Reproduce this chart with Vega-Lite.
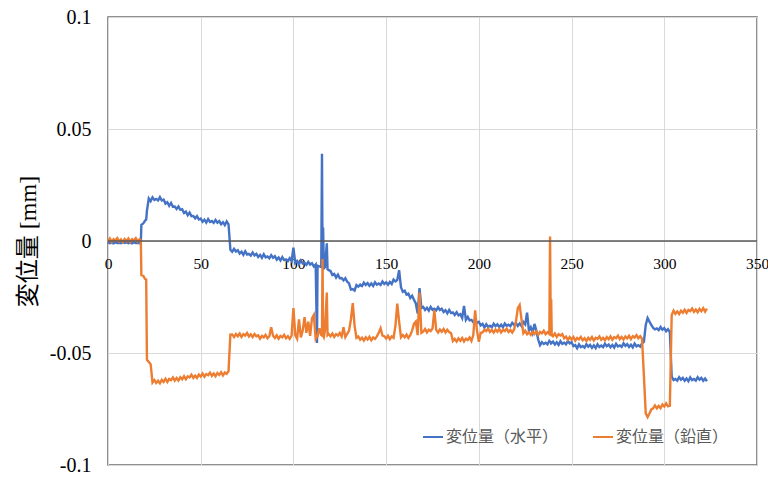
{
"$schema": "https://vega.github.io/schema/vega-lite/v6.json",
"width": 649, "height": 448,
"autosize": {"type": "none"},
"padding": {"left": 108, "top": 17, "right": 11, "bottom": 17},
"background": "white",
"config": {"view": {"stroke": "#6b6b6b", "strokeWidth": 1.5}},
"data": {"values": [
{"t":0,"h":-0.0006,"v":-0.0001},{"t":1,"h":-0.0010,"v":0.0011},{"t":2,"h":-0.0007,"v":-0.0004},{"t":3,"h":-0.0011,"v":0.0008},{"t":4,"h":-0.0006,"v":0.0002},
{"t":5,"h":-0.0009,"v":0.0013},{"t":6,"h":-0.0008,"v":-0.0002},{"t":7,"h":-0.0010,"v":0.0007},{"t":8,"h":-0.0005,"v":-0.0005},{"t":9,"h":-0.0009,"v":0.0009},
{"t":10,"h":-0.0006,"v":-0.0001},{"t":11,"h":-0.0010,"v":0.0011},{"t":12,"h":-0.0007,"v":-0.0004},{"t":13,"h":-0.0011,"v":0.0008},{"t":14,"h":-0.0006,"v":0.0002},
{"t":15,"h":-0.0009,"v":0.0013},{"t":16,"h":-0.0008,"v":-0.0002},{"t":17,"h":-0.0010,"v":0.0007},{"t":17.7,"h":-0.0008,"v":0.0003},
{"t":18,"h":0.0072,"v":-0.0152},{"t":19,"h":0.0078,"v":-0.0155},{"t":20,"h":0.0091,"v":-0.0170},{"t":20.6,"h":0.0095,"v":-0.0172},
{"t":21,"h":0.0135,"v":-0.0530},{"t":22,"h":0.0190,"v":-0.0540},{"t":23,"h":0.0178,"v":-0.0550},{"t":24,"h":0.0195,"v":-0.0632},
{"t":25,"h":0.0183,"v":-0.0621},{"t":26,"h":0.0188,"v":-0.0634},{"t":27,"h":0.0181,"v":-0.0624},{"t":28,"h":0.0196,"v":-0.0635},
{"t":29,"h":0.0181,"v":-0.0620},{"t":30,"h":0.0185,"v":-0.0629},{"t":31,"h":0.0167,"v":-0.0615},{"t":32,"h":0.0173,"v":-0.0629},
{"t":33,"h":0.0157,"v":-0.0616},{"t":34,"h":0.0170,"v":-0.0621},{"t":35,"h":0.0153,"v":-0.0609},{"t":36,"h":0.0154,"v":-0.0623},
{"t":37,"h":0.0143,"v":-0.0612},{"t":38,"h":0.0154,"v":-0.0623},{"t":39,"h":0.0139,"v":-0.0608},{"t":40,"h":0.0142,"v":-0.0617},
{"t":41,"h":0.0125,"v":-0.0604},{"t":42,"h":0.0131,"v":-0.0617},{"t":43,"h":0.0115,"v":-0.0604},{"t":44,"h":0.0127,"v":-0.0609},
{"t":45,"h":0.0111,"v":-0.0597},{"t":46,"h":0.0112,"v":-0.0611},{"t":47,"h":0.0101,"v":-0.0601},{"t":48,"h":0.0111,"v":-0.0611},
{"t":49,"h":0.0096,"v":-0.0596},{"t":50,"h":0.0100,"v":-0.0605},{"t":51,"h":0.0086,"v":-0.0592},{"t":52,"h":0.0095,"v":-0.0606},
{"t":53,"h":0.0082,"v":-0.0594},{"t":54,"h":0.0098,"v":-0.0599},{"t":55,"h":0.0085,"v":-0.0588},{"t":56,"h":0.0089,"v":-0.0602},
{"t":57,"h":0.0081,"v":-0.0592},{"t":58,"h":0.0094,"v":-0.0604},{"t":59,"h":0.0082,"v":-0.0589},{"t":60,"h":0.0089,"v":-0.0598},
{"t":61,"h":0.0075,"v":-0.0586},{"t":62,"h":0.0084,"v":-0.0600},{"t":63,"h":0.0071,"v":-0.0587},{"t":64,"h":0.0087,"v":-0.0593},
{"t":65,"h":0.0074,"v":-0.0581},
{"t":66,"h":-0.0039,"v":-0.0418},{"t":67,"h":-0.0048,"v":-0.0417},{"t":68,"h":-0.0035,"v":-0.0429},{"t":69,"h":-0.0047,"v":-0.0415},
{"t":70,"h":-0.0041,"v":-0.0425},{"t":71,"h":-0.0056,"v":-0.0413},{"t":72,"h":-0.0048,"v":-0.0428},{"t":73,"h":-0.0062,"v":-0.0416},
{"t":74,"h":-0.0046,"v":-0.0422},{"t":75,"h":-0.0060,"v":-0.0411},{"t":76,"h":-0.0057,"v":-0.0426},{"t":77,"h":-0.0065,"v":-0.0417},
{"t":78,"h":-0.0051,"v":-0.0429},{"t":79,"h":-0.0064,"v":-0.0415},{"t":80,"h":-0.0057,"v":-0.0425},{"t":81,"h":-0.0071,"v":-0.0421},
{"t":82,"h":-0.0062,"v":-0.0436},{"t":83,"h":-0.0075,"v":-0.0424},{"t":84,"h":-0.0059,"v":-0.0430},{"t":85,"h":-0.0073,"v":-0.0419},
{"t":86,"h":-0.0069,"v":-0.0434},{"t":87,"h":-0.0077,"v":-0.0425},{"t":88,"h":-0.0063,"v":-0.0385},{"t":89,"h":-0.0075,"v":-0.0423},
{"t":90,"h":-0.0068,"v":-0.0433},{"t":91,"h":-0.0083,"v":-0.0421},{"t":92,"h":-0.0074,"v":-0.0436},{"t":93,"h":-0.0087,"v":-0.0424},
{"t":94,"h":-0.0072,"v":-0.0430},{"t":95,"h":-0.0085,"v":-0.0419},{"t":96,"h":-0.0082,"v":-0.0434},{"t":97,"h":-0.0090,"v":-0.0425},
{"t":98,"h":-0.0077,"v":-0.0437},{"t":99,"h":-0.0089,"v":-0.0423},{"t":100,"h":-0.0030,"v":-0.0300},{"t":101,"h":-0.0098,"v":-0.0421},
{"t":102,"h":-0.0089,"v":-0.0436},{"t":103,"h":-0.0103,"v":-0.0350},{"t":104,"h":-0.0087,"v":-0.0430},{"t":105,"h":-0.0101,"v":-0.0400},
{"t":106,"h":-0.0098,"v":-0.0340},{"t":107,"h":-0.0106,"v":-0.0410},{"t":108,"h":-0.0093,"v":-0.0360},{"t":109,"h":-0.0105,"v":-0.0423},
{"t":110,"h":-0.0099,"v":-0.0345},{"t":111,"h":-0.0114,"v":-0.0330},{"t":112,"h":-0.0105,"v":-0.0436},
{"t":112.7,"h":-0.0455,"v":-0.0425},{"t":113,"h":-0.0110,"v":-0.0425},{"t":114,"h":-0.0113,"v":-0.0390},{"t":115,"h":-0.0116,"v":-0.0420},
{"t":115.4,"h":0.0390,"v":-0.0422},{"t":115.7,"h":-0.0112,"v":-0.0080},{"t":116,"h":0.0060,"v":-0.0420},{"t":116.4,"h":-0.0122,"v":-0.0428},
{"t":117,"h":-0.0117,"v":-0.0400},{"t":118,"h":-0.0010,"v":-0.0230},{"t":118.4,"h":-0.0126,"v":-0.0420},
{"t":119,"h":-0.0130,"v":-0.0415},{"t":120,"h":-0.0134,"v":-0.0425},{"t":121,"h":-0.0152,"v":-0.0413},{"t":122,"h":-0.0147,"v":-0.0428},
{"t":123,"h":-0.0163,"v":-0.0416},{"t":124,"h":-0.0150,"v":-0.0422},{"t":125,"h":-0.0166,"v":-0.0411},{"t":126,"h":-0.0165,"v":-0.0426},
{"t":127,"h":-0.0176,"v":-0.0385},{"t":128,"h":-0.0166,"v":-0.0429},{"t":129,"h":-0.0182,"v":-0.0415},{"t":130,"h":-0.0189,"v":-0.0400},
{"t":131,"h":-0.0217,"v":-0.0350},{"t":132,"h":-0.0215,"v":-0.0277},{"t":133,"h":-0.0221,"v":-0.0380},{"t":134,"h":-0.0197,"v":-0.0432},
{"t":135,"h":-0.0204,"v":-0.0426},{"t":136,"h":-0.0195,"v":-0.0441},{"t":137,"h":-0.0201,"v":-0.0432},{"t":138,"h":-0.0186,"v":-0.0444},
{"t":139,"h":-0.0196,"v":-0.0430},{"t":140,"h":-0.0188,"v":-0.0440},{"t":141,"h":-0.0200,"v":-0.0428},{"t":142,"h":-0.0190,"v":-0.0443},
{"t":143,"h":-0.0201,"v":-0.0431},{"t":144,"h":-0.0184,"v":-0.0437},{"t":145,"h":-0.0195,"v":-0.0426},{"t":146,"h":-0.0190,"v":-0.0410},
{"t":147,"h":-0.0196,"v":-0.0390},{"t":148,"h":-0.0181,"v":-0.0422},{"t":149,"h":-0.0192,"v":-0.0425},{"t":150,"h":-0.0184,"v":-0.0435},
{"t":151,"h":-0.0195,"v":-0.0423},{"t":152,"h":-0.0183,"v":-0.0438},{"t":153,"h":-0.0192,"v":-0.0426},{"t":154,"h":-0.0172,"v":-0.0432},
{"t":155,"h":-0.0180,"v":-0.0380},{"t":156,"h":-0.0174,"v":-0.0280},{"t":157,"h":-0.0130,"v":-0.0360},{"t":158,"h":-0.0206,"v":-0.0430},
{"t":159,"h":-0.0227,"v":-0.0420},{"t":160,"h":-0.0222,"v":-0.0430},{"t":161,"h":-0.0239,"v":-0.0418},{"t":162,"h":-0.0235,"v":-0.0433},
{"t":163,"h":-0.0254,"v":-0.0421},{"t":164,"h":-0.0244,"v":-0.0400},{"t":165,"h":-0.0262,"v":-0.0370},{"t":166,"h":-0.0279,"v":-0.0360},
{"t":167,"h":-0.0324,"v":-0.0420},{"t":168,"h":-0.0210,"v":-0.0230},{"t":169,"h":-0.0299,"v":-0.0410},{"t":170,"h":-0.0294,"v":-0.0405},
{"t":171,"h":-0.0308,"v":-0.0393},{"t":172,"h":-0.0298,"v":-0.0408},{"t":173,"h":-0.0311,"v":-0.0396},{"t":174,"h":-0.0294,"v":-0.0402},
{"t":175,"h":-0.0307,"v":-0.0391},{"t":176,"h":-0.0302,"v":-0.0310},{"t":177,"h":-0.0310,"v":-0.0397},{"t":178,"h":-0.0296,"v":-0.0409},
{"t":179,"h":-0.0308,"v":-0.0395},{"t":180,"h":-0.0302,"v":-0.0405},{"t":181,"h":-0.0317,"v":-0.0393},{"t":182,"h":-0.0309,"v":-0.0408},
{"t":183,"h":-0.0323,"v":-0.0396},{"t":184,"h":-0.0308,"v":-0.0407},{"t":185,"h":-0.0322,"v":-0.0411},{"t":186,"h":-0.0319,"v":-0.0446},
{"t":187,"h":-0.0330,"v":-0.0437},{"t":188,"h":-0.0318,"v":-0.0449},{"t":189,"h":-0.0332,"v":-0.0435},{"t":190,"h":-0.0327,"v":-0.0445},
{"t":191,"h":-0.0344,"v":-0.0433},{"t":192,"h":-0.0290,"v":-0.0448},{"t":193,"h":-0.0352,"v":-0.0436},{"t":194,"h":-0.0339,"v":-0.0442},
{"t":195,"h":-0.0354,"v":-0.0431},{"t":196,"h":-0.0352,"v":-0.0446},{"t":197,"h":-0.0363,"v":-0.0420},{"t":198,"h":-0.0351,"v":-0.0310},
{"t":199,"h":-0.0365,"v":-0.0400},{"t":200,"h":-0.0361,"v":-0.0450},{"t":201,"h":-0.0377,"v":-0.0410},{"t":202,"h":-0.0370,"v":-0.0408},
{"t":203,"h":-0.0386,"v":-0.0396},{"t":204,"h":-0.0372,"v":-0.0402},{"t":205,"h":-0.0384,"v":-0.0391},{"t":206,"h":-0.0378,"v":-0.0406},
{"t":207,"h":-0.0385,"v":-0.0397},{"t":208,"h":-0.0369,"v":-0.0409},{"t":209,"h":-0.0380,"v":-0.0395},{"t":210,"h":-0.0372,"v":-0.0405},
{"t":211,"h":-0.0384,"v":-0.0393},{"t":212,"h":-0.0374,"v":-0.0408},{"t":213,"h":-0.0385,"v":-0.0396},{"t":214,"h":-0.0368,"v":-0.0402},
{"t":215,"h":-0.0379,"v":-0.0391},{"t":216,"h":-0.0374,"v":-0.0406},{"t":217,"h":-0.0380,"v":-0.0397},{"t":218,"h":-0.0365,"v":-0.0409},
{"t":219,"h":-0.0375,"v":-0.0395},{"t":220,"h":-0.0366,"v":-0.0360},{"t":221,"h":-0.0379,"v":-0.0300},{"t":222,"h":-0.0368,"v":-0.0286},
{"t":223,"h":-0.0380,"v":-0.0350},{"t":224,"h":-0.0362,"v":-0.0412},{"t":225,"h":-0.0372,"v":-0.0401},{"t":226,"h":-0.0320,"v":-0.0416},
{"t":227,"h":-0.0400,"v":-0.0407},{"t":228,"h":-0.0385,"v":-0.0419},{"t":229,"h":-0.0410,"v":-0.0405},{"t":230,"h":-0.0370,"v":-0.0415},
{"t":231,"h":-0.0400,"v":-0.0403},{"t":232,"h":-0.0440,"v":-0.0418},{"t":233,"h":-0.0465,"v":-0.0406},{"t":234,"h":-0.0452,"v":-0.0412},
{"t":235,"h":-0.0460,"v":-0.0401},{"t":236,"h":-0.0454,"v":-0.0416},{"t":237,"h":-0.0461,"v":-0.0407},{"t":238,"h":-0.0446,"v":-0.0415},
{"t":238.4,"h":-0.0450,"v":0.0020},{"t":238.8,"h":-0.0452,"v":-0.0418},{"t":239,"h":-0.0457,"v":-0.0260},{"t":239.3,"h":-0.0455,"v":-0.0420},
{"t":240,"h":-0.0449,"v":-0.0425},{"t":241,"h":-0.0462,"v":-0.0413},{"t":242,"h":-0.0452,"v":-0.0428},{"t":243,"h":-0.0464,"v":-0.0416},
{"t":244,"h":-0.0447,"v":-0.0422},{"t":245,"h":-0.0459,"v":-0.0416},{"t":246,"h":-0.0454,"v":-0.0434},{"t":247,"h":-0.0461,"v":-0.0427},
{"t":248,"h":-0.0446,"v":-0.0441},{"t":249,"h":-0.0457,"v":-0.0429},{"t":250,"h":-0.0452,"v":-0.0440},{"t":251,"h":-0.0469,"v":-0.0429},
{"t":252,"h":-0.0465,"v":-0.0445},{"t":253,"h":-0.0479,"v":-0.0433},{"t":254,"h":-0.0462,"v":-0.0439},{"t":255,"h":-0.0474,"v":-0.0428},
{"t":256,"h":-0.0469,"v":-0.0443},{"t":257,"h":-0.0476,"v":-0.0434},{"t":258,"h":-0.0461,"v":-0.0446},{"t":259,"h":-0.0472,"v":-0.0432},
{"t":260,"h":-0.0464,"v":-0.0441},{"t":261,"h":-0.0477,"v":-0.0429},{"t":262,"h":-0.0466,"v":-0.0444},{"t":263,"h":-0.0478,"v":-0.0432},
{"t":264,"h":-0.0461,"v":-0.0437},{"t":265,"h":-0.0473,"v":-0.0426},{"t":266,"h":-0.0467,"v":-0.0441},{"t":267,"h":-0.0474,"v":-0.0432},
{"t":268,"h":-0.0459,"v":-0.0443},{"t":269,"h":-0.0470,"v":-0.0429},{"t":270,"h":-0.0462,"v":-0.0439},{"t":271,"h":-0.0474,"v":-0.0426},
{"t":272,"h":-0.0464,"v":-0.0441},{"t":273,"h":-0.0476,"v":-0.0429},{"t":274,"h":-0.0459,"v":-0.0434},{"t":275,"h":-0.0471,"v":-0.0423},
{"t":276,"h":-0.0466,"v":-0.0438},{"t":277,"h":-0.0473,"v":-0.0428},{"t":278,"h":-0.0457,"v":-0.0440},{"t":279,"h":-0.0468,"v":-0.0426},
{"t":280,"h":-0.0460,"v":-0.0435},{"t":281,"h":-0.0473,"v":-0.0423},{"t":282,"h":-0.0463,"v":-0.0438},{"t":283,"h":-0.0475,"v":-0.0425},
{"t":284,"h":-0.0458,"v":-0.0431},{"t":285,"h":-0.0470,"v":-0.0420},{"t":286,"h":-0.0465,"v":-0.0434},{"t":287,"h":-0.0472,"v":-0.0425},
{"t":288,"h":-0.0457,"v":-0.0437},{"t":289,"h":-0.0450,"v":-0.0600},{"t":290,"h":-0.0375,"v":-0.0770},{"t":291,"h":-0.0344,"v":-0.0786},
{"t":292,"h":-0.0360,"v":-0.0770},{"t":293,"h":-0.0375,"v":-0.0752},{"t":294,"h":-0.0388,"v":-0.0747},{"t":295,"h":-0.0394,"v":-0.0734},
{"t":296,"h":-0.0390,"v":-0.0747},{"t":297,"h":-0.0398,"v":-0.0736},{"t":298,"h":-0.0384,"v":-0.0746},{"t":299,"h":-0.0396,"v":-0.0730},
{"t":300,"h":-0.0389,"v":-0.0739},{"t":301,"h":-0.0403,"v":-0.0725},{"t":302,"h":-0.0394,"v":-0.0738},{"t":303,"h":-0.0407,"v":-0.0735},
{"t":304,"h":-0.0605,"v":-0.0330},{"t":305,"h":-0.0621,"v":-0.0311},{"t":306,"h":-0.0616,"v":-0.0325},{"t":307,"h":-0.0623,"v":-0.0315},
{"t":308,"h":-0.0608,"v":-0.0326},{"t":309,"h":-0.0619,"v":-0.0311},{"t":310,"h":-0.0611,"v":-0.0320},{"t":311,"h":-0.0624,"v":-0.0307},
{"t":312,"h":-0.0614,"v":-0.0321},{"t":313,"h":-0.0626,"v":-0.0308},{"t":314,"h":-0.0609,"v":-0.0313},{"t":315,"h":-0.0621,"v":-0.0301},
{"t":316,"h":-0.0616,"v":-0.0316},{"t":317,"h":-0.0623,"v":-0.0306},{"t":318,"h":-0.0608,"v":-0.0318},{"t":319,"h":-0.0619,"v":-0.0303},
{"t":320,"h":-0.0611,"v":-0.0313},{"t":321,"h":-0.0624,"v":-0.0300},{"t":322,"h":-0.0614,"v":-0.0315},{"t":323,"h":-0.0626,"v":-0.0302}
]},
"layer": [
{
"transform": [{"fold": ["h", "v"], "as": ["s", "y"]}],
"mark": {"type": "line", "strokeWidth": 2.4},
"encoding": {
"x": {"field": "t", "type": "quantitative", "scale": {"domain": [0, 350], "nice": false, "zero": false},
"axis": {"orient": "bottom", "values": [0, 50, 100, 150, 200, 250, 300, 350], "grid": true, "gridColor": "#d9d9d9", "gridWidth": 1, "labels": false, "ticks": false, "domain": false, "title": null}},
"y": {"field": "y", "type": "quantitative", "scale": {"domain": [-0.1, 0.1], "nice": false},
"axis": {"orient": "left", "values": [-0.1, -0.05, 0, 0.05, 0.1], "grid": true, "gridColor": "#d9d9d9", "gridWidth": 1, "domain": false, "ticks": false, "tickSize": 0, "labelPadding": 17, "labelFont": "Liberation Serif, DejaVu Serif, serif", "labelFontSize": 20, "labelColor": "#000000", "labelExpr": "toString(datum.value)", "title": "変位量 [mm]", "titleFont": "Liberation Serif, Noto Sans CJK JP, serif", "titleFontSize": 24, "titleFontWeight": "normal", "titleColor": "#000000", "titleX": -80, "titleY": 224, "titleAlign": "center", "titleBaseline": "middle", "titleAngle": -90}},
"color": {"field": "s", "type": "nominal", "scale": {"domain": ["h", "v"], "range": ["#4472C4", "#ED7D31"]},
"legend": {"orient": "none", "legendX": 314, "legendY": 409, "direction": "horizontal", "title": null, "symbolType": "stroke", "symbolSize": 400, "symbolStrokeWidth": 2, "labelFont": "Noto Sans CJK JP", "labelFontSize": 16, "labelColor": "#595959", "labelOffset": 2, "columnPadding": 30, "padding": 0, "labelExpr": "datum.label == 'h' ? '変位量（水平）' : '変位量（鉛直）'"}}
}
},
{
"data": {"values": [{"a": 0, "b": 350, "z": 0}]},
"mark": {"type": "rule", "color": "#595959", "strokeWidth": 1.5},
"encoding": {
"x": {"field": "a", "type": "quantitative", "axis": {"orient": "bottom", "offset": -224, "values": [0, 50, 100, 150, 200, 250, 300, 350], "grid": false, "domain": false, "ticks": false, "tickSize": 0, "labelPadding": 15, "labelFont": "Liberation Serif, DejaVu Serif, serif", "labelFontSize": 15.5, "labelColor": "#000000", "labelFlush": false, "title": null}},
"x2": {"field": "b"},
"y": {"field": "z", "type": "quantitative", "axis": null}
}
}
],
"resolve": {"axis": {"x": "independent", "y": "independent"}}
}
